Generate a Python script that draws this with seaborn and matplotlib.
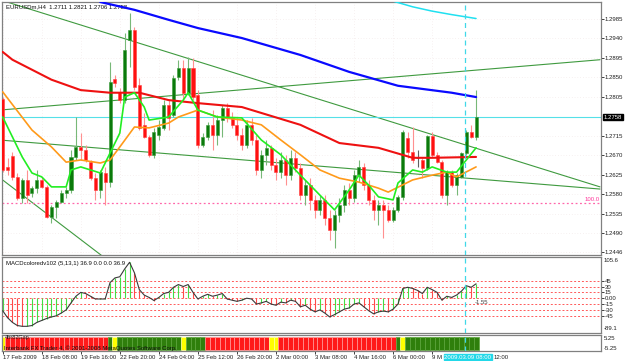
import matplotlib
matplotlib.use("Agg")
import matplotlib.pyplot as plt
import seaborn as sns
import pandas as pd
from matplotlib.transforms import blended_transform_factory as btf

sns.set_theme(style="white")
plt.rcParams['font.family'] = ['Liberation Sans', 'DejaVu Sans']

# ---------------- data ----------------
opens = [
    1.2800, 1.2643, 1.2668, 1.2620, 1.2571, 1.2613, 1.2583, 1.2594, 1.2613, 1.2597,
    1.2528, 1.2551, 1.2562, 1.2583, 1.2590, 1.2666, 1.2689, 1.2682, 1.2654, 1.2618,
    1.2590, 1.2629, 1.2608, 1.2846, 1.2816, 1.2797, 1.2936, 1.2959, 1.2832, 1.2740,
    1.2712, 1.2671, 1.2717, 1.2733, 1.2786, 1.2763, 1.2850, 1.2871, 1.2814, 1.2871,
    1.2809, 1.2694, 1.2712, 1.2740, 1.2717, 1.2751, 1.2779, 1.2756, 1.2740, 1.2717,
    1.2694, 1.2740, 1.2705, 1.2636, 1.2671, 1.2687, 1.2648, 1.2631, 1.2659, 1.2624,
    1.2664, 1.2641, 1.2578, 1.2601, 1.2567, 1.2544, 1.2567, 1.2525, 1.2498, 1.2532,
    1.2555, 1.2590, 1.2571, 1.2624, 1.2643, 1.2601, 1.2567, 1.2544, 1.2555, 1.2544,
    1.2521, 1.2544, 1.2574, 1.2710, 1.2677, 1.2664, 1.2659, 1.2641, 1.2714, 1.2671,
    1.2654, 1.2578, 1.2631, 1.2601, 1.2620, 1.2675, 1.2724, 1.2711]
highs = [
    1.2804, 1.2664, 1.2677, 1.2629, 1.2618, 1.2636, 1.2599, 1.2636, 1.2620, 1.2601,
    1.2555, 1.2567, 1.2590, 1.2597, 1.2682, 1.2758, 1.2721, 1.2694, 1.2659, 1.2629,
    1.2636, 1.2643, 1.2885, 1.2855, 1.2825, 1.2952, 1.2998, 1.2966, 1.2848, 1.2767,
    1.2717, 1.2733, 1.2751, 1.2797, 1.2797, 1.2855, 1.2890, 1.2890, 1.2897, 1.2894,
    1.2820, 1.2721, 1.2747, 1.2774, 1.2763, 1.2786, 1.2790, 1.2770, 1.2756, 1.2733,
    1.2751, 1.2756, 1.2717, 1.2682, 1.2705, 1.2694, 1.2664, 1.2677, 1.2671, 1.2682,
    1.2677, 1.2652, 1.2613, 1.2618, 1.2578, 1.2578, 1.2578, 1.2544, 1.2544, 1.2571,
    1.2601, 1.2606, 1.2636, 1.2659, 1.2652, 1.2613, 1.2578, 1.2567, 1.2567, 1.2555,
    1.2551, 1.2578, 1.2728, 1.2724, 1.2735, 1.2682, 1.2664, 1.2717, 1.2724, 1.2677,
    1.2659, 1.2636, 1.2636, 1.2629, 1.2677, 1.2728, 1.2740, 1.2821]
lows = [
    1.2631, 1.2624, 1.2613, 1.2567, 1.2560, 1.2560, 1.2574, 1.2583, 1.2594, 1.2525,
    1.2514, 1.2525, 1.2560, 1.2571, 1.2583, 1.2659, 1.2659, 1.2654, 1.2613, 1.2567,
    1.2571, 1.2555, 1.2597, 1.2827, 1.2790, 1.2790, 1.2873, 1.2820, 1.2728, 1.2710,
    1.2666, 1.2664, 1.2705, 1.2728, 1.2728, 1.2758, 1.2844, 1.2797, 1.2809, 1.2797,
    1.2687, 1.2689, 1.2705, 1.2682, 1.2694, 1.2712, 1.2747, 1.2733, 1.2705, 1.2682,
    1.2687, 1.2694, 1.2624, 1.2618, 1.2648, 1.2636, 1.2613, 1.2618, 1.2601, 1.2613,
    1.2631, 1.2567, 1.2555, 1.2544, 1.2525, 1.2532, 1.2509, 1.2475, 1.2456, 1.2516,
    1.2539, 1.2555, 1.2562, 1.2608, 1.2590, 1.2555, 1.2521, 1.2509, 1.2479, 1.2516,
    1.2516, 1.2539, 1.2567, 1.2664, 1.2652, 1.2643, 1.2618, 1.2636, 1.2666, 1.2652,
    1.2571, 1.2555, 1.2597, 1.2578, 1.2618, 1.2671, 1.2710, 1.2706]
closes = [
    1.2636, 1.2636, 1.2620, 1.2571, 1.2613, 1.2578, 1.2594, 1.2613, 1.2597, 1.2528,
    1.2551, 1.2562, 1.2583, 1.2590, 1.2666, 1.2689, 1.2682, 1.2659, 1.2618, 1.2590,
    1.2631, 1.2608, 1.2839, 1.2837, 1.2797, 1.2913, 1.2959, 1.2827, 1.2733, 1.2712,
    1.2671, 1.2724, 1.2735, 1.2786, 1.2756, 1.2848, 1.2871, 1.2814, 1.2871, 1.2804,
    1.2694, 1.2712, 1.2740, 1.2717, 1.2751, 1.2779, 1.2756, 1.2740, 1.2717, 1.2694,
    1.2740, 1.2705, 1.2636, 1.2671, 1.2687, 1.2648, 1.2631, 1.2659, 1.2624, 1.2664,
    1.2641, 1.2578, 1.2601, 1.2567, 1.2544, 1.2567, 1.2525, 1.2498, 1.2532, 1.2555,
    1.2590, 1.2571, 1.2624, 1.2643, 1.2601, 1.2567, 1.2544, 1.2555, 1.2544, 1.2521,
    1.2544, 1.2574, 1.2724, 1.2677, 1.2659, 1.2664, 1.2641, 1.2714, 1.2671, 1.2654,
    1.2578, 1.2631, 1.2601, 1.2624, 1.2675, 1.2724, 1.2712, 1.2758]

# moving averages (bar index, price) read at sample points
blue_x = [20, 27, 34, 40, 49, 61, 71, 81, 92, 97]
blue_y = [1.3023, 1.3005, 1.2982, 1.2963, 1.2940, 1.2901, 1.2862, 1.2830, 1.2814, 1.2804]
cyan_x = [80, 84, 88, 92, 97]
cyan_y = [1.3025, 1.3012, 1.3002, 1.2994, 1.2985]
red_x = [0, 2, 10, 16, 22, 28, 34, 40, 49, 61, 69, 77, 84, 88, 97]
red_y = [1.2908, 1.2890, 1.2844, 1.2820, 1.2814, 1.2814, 1.2797, 1.2790, 1.2781, 1.2740,
         1.2698, 1.2687, 1.2664, 1.2664, 1.2666]
orange_x = [0, 6, 10, 13, 16, 20, 22, 24, 27, 30, 34, 36, 40, 44, 49, 53, 57, 61, 65, 69,
            73, 77, 79, 84, 88, 91, 93, 97]
orange_y = [1.2816, 1.2728, 1.2689, 1.2654, 1.2659, 1.2652, 1.2659, 1.2689, 1.2735, 1.2733,
            1.2744, 1.2758, 1.2774, 1.2758, 1.2751, 1.2740, 1.2705, 1.2671, 1.2636, 1.2617,
            1.2608, 1.2594, 1.2585, 1.2613, 1.2624, 1.2631, 1.2620, 1.2643]
lime_x = [0, 4, 6, 8, 10, 13, 14, 16, 20, 22, 24, 25, 27, 29, 30, 34, 37, 38, 40, 44, 49,
          53, 57, 61, 65, 68, 71, 73, 75, 77, 80, 81, 84, 86, 88, 91, 93, 97]
lime_y = [1.2758, 1.2666, 1.2629, 1.2620, 1.2597, 1.2597, 1.2636, 1.2643, 1.2629, 1.2675,
          1.2721, 1.2804, 1.2814, 1.2781, 1.2751, 1.2758, 1.2797, 1.2814, 1.2774, 1.2758,
          1.2756, 1.2705, 1.2671, 1.2624, 1.2578, 1.2544, 1.2590, 1.2624, 1.2601, 1.2574,
          1.2567, 1.2606, 1.2636, 1.2631, 1.2643, 1.2631, 1.2631, 1.2687]

# trend lines: (x0, p0, x1, p1)
trend_lines = [(0.9, 1.3023, 122.4, 1.2597),
               (-0.6, 1.2774, 122.4, 1.2890),
               (-0.6, 1.2705, 122.4, 1.2592),
               (-0.6, 1.2618, 22.0, 1.2424)]
bid_price = 1.2758
fib_level = 1.2560

macd = [-32, -50, -62, -70, -72, -72, -70, -62, -57, -52,
        -48, -45, -38, -30, -12, 5, 15, 12, 5, -2,
        -2, -2, 40, 52, 55, 75, 92, 65, 22, 8,
        2, -6, 2, 12, 15, 28, 35, 30, 35, 15,
        -2, 5, 10, 5, 8, 12, -2, -5, -8, -5,
        0, -2, -15, -12, -8, -15, -18, -10, -12, -5,
        -8, -22, -18, -28, -35, -30, -38, -48, -42, -35,
        -28, -25, -15, -12, -22, -32, -40, -35, -33, -35,
        -28, -15, 25, 28, 25, 20, 12, 28, 22, 15,
        -5, 5, 2, 8, 18, 32, 28, 36.9]
macd_levels = [45, 30, 15, 0, -15, -30, -45]

strip_codes = ("y" + "rrrrrrrrrrrrrrrrrrrrr" + "g" + "y" + "ggggggggggggg" + "y" + "gggg"
               + "rrrrrrrrrrrrr" + "yy" + "rrrrrrrrrrrrrrrrrrrrrrrr" + "g" + "y"
               + "ggggggggggggggg")

price_ticks = [1.2985, 1.2940, 1.2895, 1.2850, 1.2805, 1.2715, 1.2670, 1.2625,
               1.2580, 1.2535, 1.2490, 1.2446]
x_tick_pos = [0, 8, 16, 24, 32, 40, 48, 56, 64, 72, 80, 88]
x_tick_labels = ["17 Feb 2009", "18 Feb 08:00", "19 Feb 16:00", "22 Feb 20:00",
                 "24 Feb 04:00", "25 Feb 12:00", "26 Feb 20:00", "2 Mar 00:00",
                 "3 Mar 08:00", "4 Mar 16:00", "6 Mar 00:00", "9 M"]

# ---------------- figure ----------------
FS = 4.3
fig = plt.figure(figsize=(6.25, 3.61), dpi=100)
fig.patch.set_facecolor("white")
XL = (-0.14, 122.6)
ax = fig.add_axes([0.0032, 0.2936, 0.9584, 0.7008])
ax2 = fig.add_axes([0.0032, 0.0776, 0.9584, 0.2105])
ax3 = fig.add_axes([0.0032, 0.0277, 0.9584, 0.0443])

for a in (ax, ax2, ax3):
    a.set_facecolor("white")
    a.set_xlim(*XL)
    for s in a.spines.values():
        s.set_color("#808080")
        s.set_linewidth(0.9)
    a.tick_params(axis='both', length=2, width=0.6, labelsize=FS, pad=0.8, colors="#202020")
    a.yaxis.tick_right()

# ---- main price panel ----
ax.set_ylim(1.2440, 1.3023)
for p in price_ticks:
    ax.axhline(p, color="#efe4e4", lw=0.5, ls=(0, (1, 3)), zorder=0)
for xp in x_tick_pos:
    ax.axvline(xp, color="#efe4e4", lw=0.5, ls=(0, (1, 3)), zorder=0)

for (x0, p0, x1, p1) in trend_lines:
    ax.plot([x0, x1], [p0, p1], color="#3f9a3f", lw=0.8, zorder=1)

ax.axhline(fib_level, color="#ff66aa", lw=0.9, ls=(0, (1.5, 2)), zorder=1)
ax.text(119.3, fib_level + 0.0003, "100.0", color="#ff3399", fontsize=FS, ha="left", va="bottom")
ax.axhline(bid_price, color="#55e0e8", lw=0.8, zorder=1)

for i in range(len(opens)):
    o, h, l, c = opens[i], highs[i], lows[i], closes[i]
    if c > o:
        body, edge, wick = "#0b7a0b", "#3a9a3a", "#78b878"
    elif c < o:
        body, edge, wick = "#ff1010", "#ff4040", "#ff9090"
    else:
        body, edge, wick = "#202020", "#202020", "#606060"
    ax.vlines(i, l, h, color=wick, lw=0.8, zorder=2)
    ax.bar(i, max(abs(c - o), 0.00006), bottom=min(o, c), width=0.62,
           color=body, edgecolor=edge, lw=0.4, zorder=3)

ma_df = pd.DataFrame
sns.lineplot(data=ma_df({"x": blue_x, "y": blue_y}), x="x", y="y", ax=ax, color="#0a0aff", lw=1.6, zorder=4)
sns.lineplot(data=ma_df({"x": cyan_x, "y": cyan_y}), x="x", y="y", ax=ax, color="#20e0f0", lw=1.1, zorder=4)
sns.lineplot(data=ma_df({"x": red_x, "y": red_y}), x="x", y="y", ax=ax, color="#ee1111", lw=1.5, zorder=4)
sns.lineplot(data=ma_df({"x": orange_x, "y": orange_y}), x="x", y="y", ax=ax, color="#ff9a1a", lw=1.2, zorder=5)
sns.lineplot(data=ma_df({"x": lime_x, "y": lime_y}), x="x", y="y", ax=ax, color="#22ee22", lw=1.2, zorder=5)

ax.set_xticks([])
ax.set_yticks(price_ticks)
ax.set_yticklabels([f"{p:.4f}" for p in price_ticks])
ax.set_xlabel("")
ax.set_ylabel("")
ax.text(0.006, 0.99, "EURUSDm,H4  1.2711 1.2821 1.2706 1.2758", transform=ax.transAxes,
        fontsize=FS, va="top", ha="left", color="#101010")
ax.text(1.004, bid_price, "1.2758", transform=btf(ax.transAxes, ax.transData),
        fontsize=FS, color="white", ha="left", va="center",
        bbox=dict(facecolor="black", edgecolor="black", pad=0.6))

# ---- MACD panel ----
ax2.set_ylim(-89.1, 105.6)
for lv in macd_levels:
    ax2.axhline(lv, color="#ff5a5a", lw=0.7, ls=(0, (2, 2)), zorder=1)
for i, v in enumerate(macd):
    prev = macd[i - 1] if i > 0 else v
    col = "#44dd44" if v >= prev else "#ff4a4a"
    ax2.vlines(i, 0, v, color=col, lw=0.8, zorder=2)
sns.lineplot(data=ma_df({"x": list(range(len(macd))), "y": macd}), x="x", y="y",
             ax=ax2, color="#3a3a3a", lw=0.8, zorder=3)
ax2.set_xticks([])
ax2.set_yticks(macd_levels)
ax2.set_yticklabels(["45", "30", "15", "0.00", "-15", "-30", "-45"])
ax2.set_xlabel("")
ax2.set_ylabel("")
ax2.text(1.004, 0.985, "105.6", transform=ax2.transAxes, fontsize=FS, va="top", ha="left", color="#202020")
ax2.text(1.004, 0.02, "-89.1", transform=ax2.transAxes, fontsize=FS, va="bottom", ha="left", color="#202020")
ax2.text(0.006, 0.95, "MACDcoloredv102 (5,13,1) 36.9 0.0 0.0 36.9", transform=ax2.transAxes,
         fontsize=FS, va="top", ha="left", color="#101010")
ax2.text(96.8, -12, "-1.55", fontsize=FS, color="#404040", ha="left", va="center")

# ---- colour strip panel ----
cmap = {"r": ("#ff1a1a", "#ff9a9a"), "y": ("#ffff00", "#ffffa0"), "g": ("#2f7f0c", "#5aa43a")}
for i, code in enumerate(strip_codes):
    fc, ec = cmap[code]
    ax3.bar(i, 1.0, bottom=0.0, width=1.0, color=fc, edgecolor=ec, lw=0.5, zorder=2)
ax3.set_ylim(-0.1, 1.12)
ax3.set_yticks([])
ax3.set_xticks(x_tick_pos)
ax3.set_xticklabels(x_tick_labels, ha="left")
ax3.tick_params(axis="x", length=2, pad=1, labelsize=FS)
ax3.xaxis.tick_bottom()
ax3.text(0.004, 0.98, "4hr82Gap", transform=ax3.transAxes, fontsize=FS - 0.3, va="top", ha="left", color="#202020")
ax3.text(0.004, 0.02, "Interbank FX Trader 4, \u00a9 2001-2008 MetaQuotes Software Corp.",
         transform=ax3.transAxes, fontsize=FS, va="bottom", ha="left", color="#101010")
ax3.text(1.004, 0.95, "5.25", transform=ax3.transAxes, fontsize=FS, va="top", ha="left", color="#202020")
ax3.text(1.004, 0.02, "-5.25", transform=ax3.transAxes, fontsize=FS, va="bottom", ha="left", color="#202020")
ax3.text(100.6, -0.22, "12:00", transform=btf(ax3.transData, ax3.transAxes), fontsize=FS,
         va="top", ha="left", color="#202020")
ax3.text(95.3, -0.22, "2009.03.09 08:00", transform=btf(ax3.transData, ax3.transAxes), fontsize=FS,
         va="top", ha="center", color="white", zorder=10,
         bbox=dict(facecolor="#22d8e8", edgecolor="#22d8e8", pad=0.5))

# cursor line
for a in (ax, ax2, ax3):
    a.axvline(94.7, color="#40d8e8", lw=0.9, ls=(0, (4, 3)), zorder=6)

fig.savefig("out.png", dpi=100, facecolor="white")
